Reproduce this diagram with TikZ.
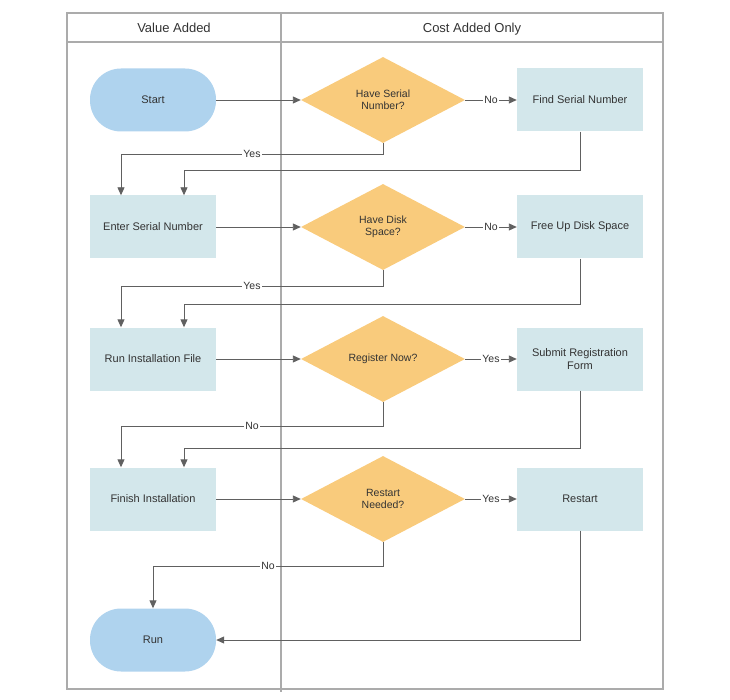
\documentclass[tikz,border=0pt]{standalone}
\usepackage{fontspec}
\setmainfont{Liberation Sans}
\usetikzlibrary{shapes.geometric,arrows.meta,calc}
\definecolor{termfill}{HTML}{AFD3EE}
\definecolor{procfill}{HTML}{D3E7EB}
\definecolor{decfill}{HTML}{F9CB7C}
\definecolor{linec}{HTML}{606060}
\definecolor{framec}{HTML}{ABABAB}
\definecolor{txt}{HTML}{333333}
\begin{document}
\begin{tikzpicture}[x=1pt,y=-1pt,
  every node/.style={text=txt},
  term/.style={rectangle,rounded corners=31pt,fill=termfill,minimum width=126pt,minimum height=63pt,inner sep=0pt,font=\fontsize{11}{13}\selectfont},
  proc/.style={rectangle,fill=procfill,minimum width=126pt,minimum height=63pt,inner sep=0pt,align=center,font=\fontsize{11}{13}\selectfont},
  dec/.style={diamond,fill=decfill,minimum width=164pt,minimum height=86pt,inner sep=0pt,align=center,font=\fontsize{10.5}{12.5}\selectfont},
  arr/.style={draw=linec,line width=0.9pt,-{Triangle[length=8pt,width=7pt]}},
  lbl/.style={fill=white,inner sep=1.2pt,text height=1.6ex,text depth=0.3ex,font=\fontsize{10.5}{12}\selectfont},
  frame/.style={draw=framec,line width=1.1pt},
  head/.style={text height=1.6ex,text depth=0.4ex,font=\fontsize{13}{15}\selectfont}]
\useasboundingbox (0,0) rectangle (730,700);
% frame
\draw[frame] (67,13) rectangle (663,689);
\draw[frame] (67,42) -- (663,42);
\draw[frame] (281,13) -- (281,692);
\node[head] (h1) at (174,29) {Value Added};
\node[head] (h2) at (472,29) {Cost Added Only};
% nodes
\node[term] (start) at (153,100) {Start};
\node[dec] (d1) at (383,100) {Have Serial\\Number?};
\node[proc] (find) at (580,100) {Find Serial Number};
\node[proc] (enter) at (153,227) {Enter Serial Number};
\node[dec] (d2) at (383,227) {Have Disk\\Space?};
\node[proc] (free) at (580,227) {Free Up Disk Space};
\node[proc] (runinst) at (153,359) {Run Installation File};
\node[dec] (d3) at (383,359) {Register Now?};
\node[proc] (submit) at (580,359) {Submit Registration\\Form};
\node[proc] (finish) at (153,499) {Finish Installation};
\node[dec] (d4) at (383,499) {Restart\\Needed?};
\node[proc] (restart) at (580,499) {Restart};
\node[term] (run) at (153,640) {Run};
% routing points
\coordinate (a1) at (121,154);
\coordinate (b1) at (184,170);
\coordinate (a2) at (121,286);
\coordinate (b2) at (184,304);
\coordinate (a3) at (121,426);
\coordinate (b3) at (184,448);
\coordinate (a4) at (153,566);
% connectors
\draw[arr] (start) -- (d1);
\draw[arr] (d1) -- node[lbl]{No} (find);
\draw[arr] (d1.south) |- node[lbl,pos=0.75]{Yes} (a1) -- (a1 |- enter.north);
\draw[arr] (find.south) |- (b1) -- (b1 |- enter.north);
\draw[arr] (enter) -- (d2);
\draw[arr] (d2) -- node[lbl]{No} (free);
\draw[arr] (d2.south) |- node[lbl,pos=0.75]{Yes} (a2) -- (a2 |- runinst.north);
\draw[arr] (free.south) |- (b2) -- (b2 |- runinst.north);
\draw[arr] (runinst) -- (d3);
\draw[arr] (d3) -- node[lbl]{Yes} (submit);
\draw[arr] (d3.south) |- node[lbl,pos=0.75]{No} (a3) -- (a3 |- finish.north);
\draw[arr] (submit.south) |- (b3) -- (b3 |- finish.north);
\draw[arr] (finish) -- (d4);
\draw[arr] (d4) -- node[lbl]{Yes} (restart);
\draw[arr] (d4.south) |- node[lbl,pos=0.75]{No} (a4) -- (run.north);
\draw[arr] (restart.south) |- (run.east);
\end{tikzpicture}
\end{document}
